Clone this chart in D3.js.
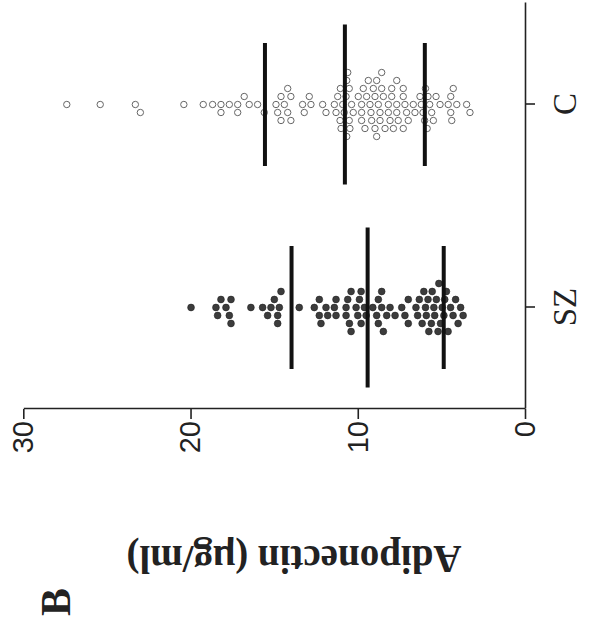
<!DOCTYPE html>
<html>
<head>
<meta charset="utf-8">
<script src="https://cdn.jsdelivr.net/npm/d3@7"></script>
<style>
  body { margin: 0; background: #fff; }
  svg { display: block; }
</style>
</head>
<body>
<div id="chart"></div>
<script>
// groups on the category axis
const groups = ["SZ", "C"];
const yTicks = [0, 10, 20, 30];

// adiponectin values (ug/ml)
const szValues = [
  19.97,
  18.38, 17.58, 17.88, 18.48, 17.68, 18.18, 17.58,
  16.39,
  15.69, 15.19, 14.79, 14.59, 14.99, 15.39, 14.69, 14.79,
  13.5,
  12.6, 12.3, 11.9, 11.8, 12.3, 12.2, 11.4, 11.3, 11.3,
  10.7, 10.4, 10.1, 9.8, 9.6, 10.6, 10.0, 9.5, 10.4, 9.8, 10.5, 9.9, 10.7, 9.1,
  8.87, 8.57, 8.77, 8.07, 8.47, 7.77, 8.77, 8.27, 8.57, 7.37, 7.18, 6.98, 6.98, 6.52, 6.42, 6.32,
  6.15, 6.05, 5.95, 5.9, 5.8, 5.75, 5.6, 5.55, 5.45, 5.4, 5.3, 5.2, 5.15, 5.05,
  4.95, 4.85, 4.8, 4.7, 4.6, 4.45, 4.3, 4.15, 4.0, 3.85, 3.7
];
const cValues = [
  27.4, 25.4, 23.3, 23.0,
  20.4,
  19.24, 18.68, 18.18, 18.18, 17.68, 17.18, 17.18, 16.79, 16.49, 15.99, 15.59,
  14.19, 14.79, 14.0, 14.59, 14.89, 14.39, 14.59, 14.0, 14.19,
  13.3, 12.8, 13.2, 12.9,
  12.1, 11.9, 11.4,
  10.66, 11.2, 10.66, 11.06, 10.51, 10.9, 10.37, 10.81, 10.27, 11.0, 10.47, 11.04, 10.51, 11.3, 10.7, 10.6,
  9.77, 8.87, 9.77, 9.21, 8.57, 7.97, 7.28, 9.47, 8.97, 8.47, 7.97, 7.28,
  9.27, 8.67, 8.07, 7.58, 6.98, 9.37, 8.77, 8.17, 7.67, 7.18, 6.68, 6.28,
  9.57, 8.97, 8.37, 7.67, 7.08, 6.58, 9.67, 9.07, 8.57, 7.87, 7.28,
  9.77, 9.17, 8.67, 8.17, 7.67, 9.97, 8.87,
  6.2, 6.1, 6.0, 5.95, 5.85, 5.8, 5.7,
  5.58, 5.32, 5.48, 5.08, 4.59, 4.44, 4.29, 4.38, 4.44, 4.08, 3.49, 3.29
];
// mean and SD lines
const means = [9.41, 10.77];
const sds = [4.55, 4.78];

const W = 589, H = 618;

const svg = d3.select("#chart").append("svg")
  .attr("width", W)
  .attr("height", H);

// the figure is printed turned a quarter turn, so draw it upright and rotate the whole thing
const g = svg.append("g")
  .attr("transform", `translate(0,${H}) rotate(-90)`);

const y = d3.scaleLinear().domain([0, 30]).range([525, 23.3]);
const x = d3.scalePoint().domain(groups).range([209, 615]).padding(0.5);

// y axis
const yAxis = g.append("g")
  .attr("transform", "translate(209,0)")
  .call(d3.axisLeft(y).tickValues(yTicks).tickSize(10).tickSizeOuter(0).tickPadding(2));
yAxis.selectAll("text")
  .style("font-family", "'Liberation Sans', Arial, sans-serif")
  .style("font-size", "29px")
  .attr("fill", "#222");

// x axis
const xAxis = g.append("g")
  .attr("transform", "translate(0,525)")
  .call(d3.axisBottom(x).tickSize(10).tickSizeOuter(0).tickPadding(18));
xAxis.selectAll("text")
  .style("font-family", "'Liberation Serif', 'Times New Roman', serif")
  .style("font-size", "33px")
  .attr("fill", "#222");

g.selectAll(".domain, .tick line")
  .attr("stroke", "#222")
  .attr("stroke-width", 1.6);

// beeswarm: each dot goes to the nearest free row (rows are one dot apart)
function swarm(values, step) {
  const placed = [];
  values.slice().sort((a, b) => b - a).forEach(v => {
    const py = y(v);
    for (let k = 0; k < 40; k++) {
      const off = (k % 2 === 0 ? 1 : -1) * Math.ceil(k / 2) * step;
      const hit = placed.some(p => p.off === off && Math.abs(p.py - py) < step);
      if (!hit) { placed.push({ v: v, py: py, off: off }); break; }
    }
  });
  return placed;
}

const rowStep = 8;

g.append("g").selectAll("circle")
  .data(swarm(szValues, rowStep))
  .join("circle")
  .attr("cx", d => x("SZ") + d.off)
  .attr("cy", d => y(d.v))
  .attr("r", 3.4)
  .attr("fill", "#3c3c3c")
  .attr("stroke", "#222")
  .attr("stroke-width", 0.6);

g.append("g").selectAll("circle")
  .data(swarm(cValues, rowStep))
  .join("circle")
  .attr("cx", d => x("C") + d.off)
  .attr("cy", d => y(d.v))
  .attr("r", 3.2)
  .attr("fill", "#fff")
  .attr("stroke", "#666")
  .attr("stroke-width", 1);

// mean (long) and mean +/- SD (shorter) lines
const bars = [];
groups.forEach((grp, i) => {
  bars.push({ grp: grp, v: means[i], half: 80 });
  bars.push({ grp: grp, v: means[i] + sds[i], half: 61.5 });
  bars.push({ grp: grp, v: means[i] - sds[i], half: 61.5 });
});
g.append("g").selectAll("line")
  .data(bars)
  .join("line")
  .attr("x1", d => x(d.grp) - d.half)
  .attr("x2", d => x(d.grp) + d.half)
  .attr("y1", d => y(d.v))
  .attr("y2", d => y(d.v))
  .attr("stroke", "#111")
  .attr("stroke-width", 4);

// axis title
g.append("text")
  .attr("transform", "translate(72,294) rotate(-90)")
  .attr("text-anchor", "middle")
  .style("font-family", "'Liberation Serif', 'Times New Roman', serif")
  .style("font-weight", "bold")
  .style("font-size", "39px")
  .attr("fill", "#222")
  .text("Adiponectin (\u03bcg/ml)");

// panel letter
g.append("text")
  .attr("x", 2)
  .attr("y", 70)
  .style("font-family", "'Liberation Serif', 'Times New Roman', serif")
  .style("font-weight", "bold")
  .style("font-size", "42px")
  .attr("fill", "#222")
  .text("B");
</script>
</body>
</html>
